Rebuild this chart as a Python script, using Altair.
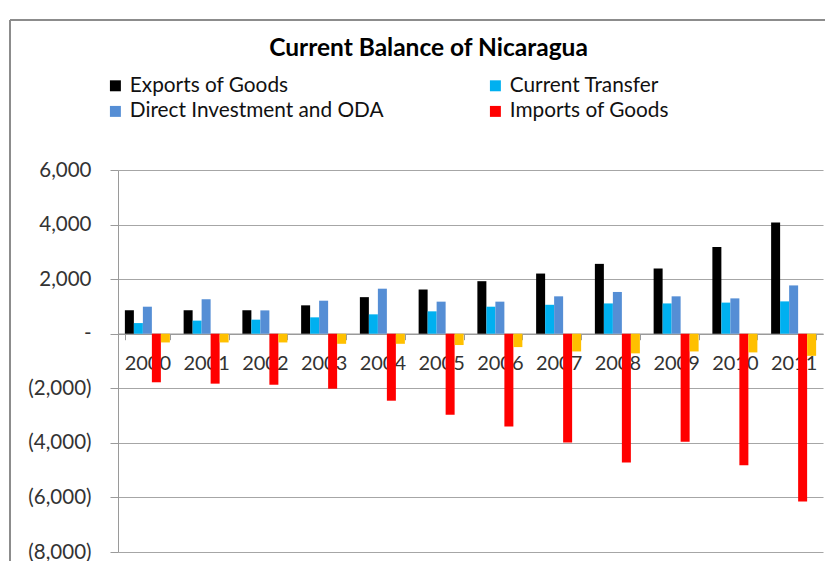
import altair as alt
import pandas as pd

years = ["2000", "2001", "2002", "2003", "2004", "2005", "2006", "2007", "2008", "2009", "2010", "2011"]
series = ["Exports of Goods", "Current Transfer", "Direct Investment and ODA", "Imports of Goods", "Income"]
colors = ["#000000", "#00B0F0", "#558ED5", "#FF0000", "#FFC000"]
exports = [860, 860, 860, 1040, 1340, 1620, 1925, 2205, 2560, 2390, 3180, 4080]
transfers = [390, 480, 515, 600, 710, 820, 990, 1060, 1110, 1110, 1140, 1185]
fdi = [990, 1260, 855, 1210, 1650, 1175, 1175, 1370, 1530, 1370, 1295, 1770]
imports = [-1780, -1830, -1870, -2015, -2455, -2970, -3405, -3990, -4720, -3955, -4820, -6150]
income = [-320, -320, -320, -370, -370, -415, -490, -650, -720, -650, -685, -810]
y_ticks = [-8000, -6000, -4000, -2000, 0, 2000, 4000, 6000]

rows = []
for vals, name in zip([exports, transfers, fdi, imports, income], series):
    for yr, v in zip(years, vals):
        rows.append({"year": yr, "series": name, "value": v})
df = pd.DataFrame(rows)

W, H = 705, 382
FONT = "Lato"

label_expr = ("datum.value == 0 ? '-' : (datum.value < 0 ? '(' + format(-datum.value, ',') + ')' "
              ": format(datum.value, ','))")

bars = alt.Chart(df).mark_bar().encode(
    x=alt.X("year:N", sort=years, title=None,
            scale=alt.Scale(paddingInner=0.234, paddingOuter=0.117),
            axis=alt.Axis(offset=-(H - H * 6000 / 14000), labelAngle=0, labelFontSize=20,
                          labelColor="#333333", labelFont=FONT, labelPadding=14,
                          tickBand="extent", tickSize=6, tickColor="#9A9A9A",
                          domainColor="#9A9A9A", domainWidth=1.5, grid=False)),
    xOffset=alt.XOffset("series:N", sort=series, scale=alt.Scale(paddingInner=0, paddingOuter=0)),
    y=alt.Y("value:Q", title=None,
            scale=alt.Scale(domain=[-8000, 6000], nice=False, zero=False),
            axis=alt.Axis(values=y_ticks, labelExpr=label_expr, labelFontSize=20.5,
                          labelColor="#333333", labelFont=FONT, labelPadding=19,
                          tickSize=8, tickColor="#9A9A9A", domainColor="#9A9A9A",
                          gridColor="#A6A6A6", gridWidth=1.2)),
    color=alt.Color("series:N", sort=series,
                    scale=alt.Scale(domain=series, range=colors),
                    legend=alt.Legend(title=None, values=series[:4], orient="none",
                                      direction="horizontal",
                                      legendX=-13, legendY=-95, columns=2,
                                      columnPadding=101, rowPadding=4,
                                      symbolType="square", symbolSize=120,
                                      symbolStrokeWidth=0, labelFontSize=20.8,
                                      labelFont=FONT, labelColor="#111111",
                                      labelOffset=4, labelLimit=400)),
)

frame = alt.Chart(df).mark_rule(color="#8C8C8C", strokeWidth=1.5, clip=False).encode(
    x=alt.value(-108), y=alt.value(-150), y2=alt.value(H + 20))
frame_top = alt.Chart(df).mark_rule(color="#8C8C8C", strokeWidth=1.5, clip=False).encode(
    x=alt.value(-108), x2=alt.value(W + 10), y=alt.value(-150))

chart = alt.layer(bars, frame, frame_top).properties(
    width=W, height=H,
    title=alt.Title("Current Balance of Nicaragua", fontSize=24.5, font=FONT, fontWeight="bold",
                    color="#000000", anchor="middle", dx=-42, offset=-42),
    autosize=alt.AutoSizeParams(type="none"),
    padding={"left": 110, "top": 162, "right": 2, "bottom": 9},
).configure_view(stroke=None)

chart.save("out.html", embed_options={"renderer": "svg", "actions": False})
